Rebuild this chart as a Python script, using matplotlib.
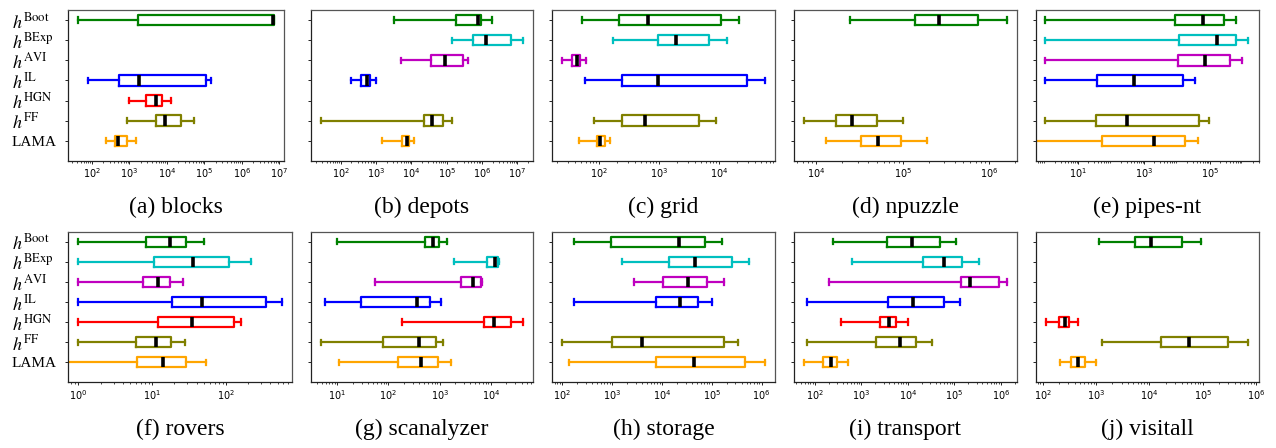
import matplotlib
matplotlib.use("Agg")
import matplotlib.pyplot as plt
import numpy as np

methods = ["Boot", "BExp", "AVI", "IL", "HGN", "FF", "LAMA"]
method_labels = [r"$h^{\mathrm{Boot}}$", r"$h^{\mathrm{BExp}}$", r"$h^{\mathrm{AVI}}$",
                 r"$h^{\mathrm{IL}}$", r"$h^{\mathrm{HGN}}$", r"$h^{\mathrm{FF}}$", "LAMA"]
colors = ["green", "c", "m", "blue", "red", "olive", "orange"]

# (whislo, q1, median, q3, whishi) per method; None = no data
blocks = [(43, 1660, 6.8e6, 7.2e6, 7.2e6), None, None,
          (77, 535, 1780, 1.08e5, 1.48e5), (1000, 2700, 5200, 7600, 12600),
          (870, 5100, 8900, 23800, 52000), (235, 410, 490, 870, 1490)]
depots = [(3200, 1.85e5, 7.6e5, 9.3e5, 1.9e6), (1.38e5, 5.5e5, 1.3e6, 6.6e6, 1.45e7),
          (5000, 37000, 92000, 2.9e5, 4.0e5), (200, 370, 550, 680, 1000), None,
          (27, 23000, 39000, 81000, 1.45e5), (1450, 5500, 7400, 8800, 12000)]
grid = [(52, 218, 650, 10800, 21000), (170, 970, 1920, 6800, 13600),
        (24.5, 36, 42.5, 48, 60), (58, 238, 960, 29500, 59000), None,
        (81, 238, 590, 4550, 8900), (47, 92, 105, 127, 153)]
npuzzle = [(24400, 1.38e5, 2.65e5, 7.4e5, 1.62e6), None, None, None, None,
           (7100, 16700, 26000, 50500, 1.0e5), (13000, 32500, 51700, 96000, 1.9e5)]
pipes_nt = [(1, 8700, 63000, 2.7e5, 6.2e5), (1, 11700, 1.6e5, 6.4e5, 1.47e6),
            (1, 11000, 73000, 4.1e5, 9.3e5), (1, 36, 490, 14800, 35000), None,
            (1, 34, 295, 47000, 95000), (0.1, 51, 2000, 17800, 42000)]
rovers = [(1, 8.3, 17.3, 28.7, 51), (1, 10.7, 35.5, 111, 217), (1, 7.6, 12.2, 17.5, 26.5),
          (1, 18.3, 48, 345, 570), (1, 12.2, 34.7, 130, 158), (1, 6.1, 11.2, 17.8, 27.9),
          (0.3, 6.2, 14.2, 28.7, 53)]
scanalyzer = [(10, 515, 725, 950, 1380), (1950, 8300, 11800, 14000, 14500),
              (55, 2600, 4500, 6500, 6600), (5.8, 28.6, 364, 660, 1070),
              (182, 7200, 11700, 24700, 43000), (4.8, 77, 390, 850, 1150),
              (10.6, 155, 430, 930, 1660)]
storage = [(175, 960, 21700, 72000, 1.59e5), (1550, 13800, 46000, 2.5e5, 5.5e5),
           (2700, 10300, 33000, 79000, 1.78e5), (175, 7600, 23500, 53000, 1.0e5), None,
           (100, 1000, 4000, 1.8e5, 3.3e5), (134, 7700, 45000, 4.6e5, 1.17e6)]
transport = [(240, 3500, 12400, 48000, 1.1e5), (630, 21300, 59000, 1.47e5, 3.45e5),
             (200, 1.4e5, 2.15e5, 8.9e5, 1.35e6), (68, 3700, 13000, 59000, 1.33e5),
             (355, 2450, 4000, 5600, 10000), (68, 2070, 6900, 15000, 33000),
             (59, 146, 218, 300, 515)]
visitall = [(1150, 5400, 10500, 41000, 91000), None, None, None,
            (115, 200, 258, 315, 450), (1310, 16300, 54000, 3.0e5, 7.0e5),
            (210, 345, 465, 630, 1000)]

domains = [blocks, depots, grid, npuzzle, pipes_nt, rovers, scanalyzer, storage, transport, visitall]
titles = ["(a) blocks", "(b) depots", "(c) grid", "(d) npuzzle", "(e) pipes-nt",
          "(f) rovers", "(g) scanalyzer", "(h) storage", "(i) transport", "(j) visitall"]
xlims_log = [(1.37, 7.125), (1.15, 7.45), (1.22, 4.93), (3.74, 6.32), (-0.295, 6.49),
             (-0.135, 2.89), (0.48, 4.83), (1.8, 6.27), (1.55, 6.34), (1.875, 6.045)]
pipes_ticks = [1e1, 1e3, 1e5]

W, H = 1276, 448
fig = plt.figure(figsize=(W / 100, H / 100), dpi=100)

col_px = [[(68.3, 284.0), (310.7, 533.3), (552.3, 775.0), (794.0, 1016.7), (1035.7, 1259.0)],
          [(68.3, 291.7), (310.7, 533.3), (552.3, 775.0), (794.0, 1016.7), (1036.0, 1258.7)]]
row_px = [(10.0, 161.0), (231.7, 382.3)]
title_base = [213, 435]
label_left_px = 12.0
ytick_len = 2.5

for i, (data, title, xl) in enumerate(zip(domains, titles, xlims_log)):
    r, c = divmod(i, 5)
    x0, x1 = col_px[r][c]
    y0, y1 = row_px[r]
    ax = fig.add_axes([x0 / W, 1 - y1 / H, (x1 - x0) / W, (y1 - y0) / H])
    ax.set_xscale("log")
    for k, (stats, col) in enumerate(zip(data, colors)):
        if stats is None:
            continue
        lo, q1, med, q3, hi = stats
        pos = 7 - k
        d = dict(whislo=lo, q1=q1, med=med, q3=q3, whishi=hi, fliers=[])
        ax.bxp([d], positions=[pos], vert=False, widths=0.52, showfliers=False,
               boxprops=dict(color=col, linewidth=1.6),
               whiskerprops=dict(color=col, linewidth=1.6),
               capprops=dict(color=col, linewidth=1.6),
               medianprops=dict(color="black", linewidth=2.6, solid_capstyle="butt"),
               manage_ticks=False)
    ax.set_xlim(10 ** xl[0], 10 ** xl[1])
    if i == 4:
        ax.set_xticks(pipes_ticks)
    ax.set_ylim(0, 7.5)
    ax.set_yticks(range(7, 0, -1))
    pad_pt = (x0 - label_left_px) * 72 / 100 - ytick_len
    if c == 0:
        ax.set_yticklabels(method_labels, family="Liberation Serif",
                           math_fontfamily="stix", ha="left")
        for t, lab in zip(ax.get_yticklabels(), method_labels):
            t.set_fontsize(11 if lab == "LAMA" else 13)
        ax.tick_params(axis="y", pad=pad_pt)
    else:
        ax.set_yticklabels([])
    ax.tick_params(axis="x", which="major", labelsize=7, length=2.5, width=0.6, pad=1.5)
    ax.tick_params(axis="x", which="minor", length=1.5, width=0.5)
    ax.tick_params(axis="y", length=ytick_len, width=0.6)
    for name, sp in ax.spines.items():
        sp.set_linewidth(0.9)
        sp.set_color("#222222" if name in ("left", "bottom") else "#555555")
    fig.text((x0 + x1) / 2 / W, 1 - title_base[r] / H, title, ha="center", va="baseline",
             fontsize=17, family="Liberation Serif")

fig.savefig("out.png", dpi=100)
